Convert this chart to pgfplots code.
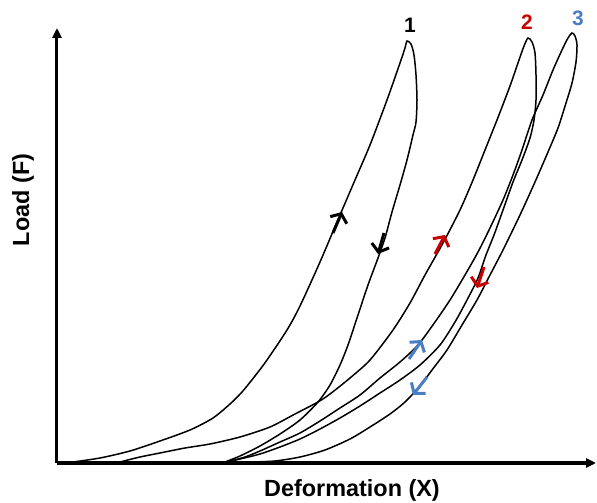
\documentclass[border=0pt]{standalone}
\usepackage{pgfplots}
\pgfplotsset{compat=1.18}
\usetikzlibrary{arrows.meta}
\usepackage{fontspec}
\setmainfont{Liberation Sans}
\definecolor{cred}{RGB}{200,0,0}
\definecolor{cblue}{RGB}{74,126,196}
\tikzset{dirarrow/.style={line width=3bp, -{Straight Barb[length=7bp,width=18bp,line width=3bp]}}}
\begin{document}
\begin{tikzpicture}
\begin{axis}[
  scale only axis,
  width=539bp, height=435bp,
  xmin=57, xmax=596, ymin=0, ymax=435,
  axis lines=left,
  axis line style={line width=3bp, -{Triangle[length=10bp,width=9bp]}},
  xtick=\empty, ytick=\empty,
  clip=false,
  xlabel={\fontsize{23.5}{26}\selectfont\bfseries Deformation (X)},
  ylabel={\fontsize{23.5}{26}\selectfont\bfseries Load (F)},
  every axis x label/.style={at={(axis cs:352,-27)},anchor=center},
  every axis y label/.style={at={(axis cs:23,263)},anchor=center,rotate=90},
]
% loop 1
\addplot[black, line width=1.5bp, smooth, tension=0.45] coordinates {
(73,1)(100,5)(130,12)(160,22)(190,33)(213,45)(230,59)(242,71)(255,87)(267,103)(287,133)(300,157)(320,201)(337,241)(355,283)(370,318)(387,363)(400,400)(405,415)(407,422)(411,419)(414,408)(416,388)(417,363)(416,341)(413,328)(407,303)(400,278)(392,251)(385,225)(378,205)(368,178)(357,145)(348,118)(340,98)(330,78)(318,61)(300,43)(280,29)(260,17)(240,7)(225,1)};
% loop 2
\addplot[black, line width=1.5bp, smooth, tension=0.45] coordinates {
(120,1)(140,6)(160,10)(185,15)(210,19)(240,26)(270,36)(295,49)(318,61)(330,69)(350,85)(370,103)(393,133)(410,160)(425,188)(443,220)(460,253)(473,283)(485,313)(497,343)(510,377)(519,403)(524,417)(528,425)(532,421)(535,410)(536,388)(536,363)(534,343)(530,325)(522,303)(513,281)(503,253)(494,228)(486,208)(478,185)(467,163)(455,141)(440,118)(420,98)(400,83)(380,70)(360,57)(340,45)(320,34)(300,24)(280,16)(260,9)(240,4)(227,1)};
% loop 3
\addplot[black, line width=1.5bp, smooth, tension=0.45] coordinates {
(227,1)(245,6)(260,12)(280,21)(300,30)(320,42)(340,55)(360,68)(380,85)(400,101)(418,118)(435,141)(450,163)(465,188)(478,211)(490,235)(503,263)(513,288)(522,313)(532,343)(543,368)(553,393)(562,413)(568,425)(572,430)(575,427)(577,418)(576,401)(572,380)(566,360)(558,335)(548,311)(535,281)(520,248)(503,213)(490,188)(477,163)(462,138)(447,113)(432,93)(420,77)(405,61)(390,49)(370,36)(350,24)(325,13)(300,6)(275,2)(250,1)};
% direction arrows
\addplot[black, dirarrow] coordinates {(333,230)(342,251)};
\addplot[black, dirarrow] coordinates {(384,230)(378,209)};
\addplot[cred, dirarrow] coordinates {(435,209)(445,228)};
\addplot[cred, dirarrow] coordinates {(484,196)(477,175)};
\addplot[cblue, dirarrow] coordinates {(409,104)(422,123)};
\addplot[cblue, dirarrow] coordinates {(427,86)(413,68)};
% loop labels
\node[font=\fontsize{21}{24}\selectfont\bfseries, text=black] at (axis cs:410,438) {1};
\node[font=\fontsize{21}{24}\selectfont\bfseries, text=cred] at (axis cs:527,441) {2};
\node[font=\fontsize{21}{24}\selectfont\bfseries, text=cblue] at (axis cs:578,445) {3};
\coordinate (BL) at (axis cs:0,-40);
\coordinate (TR) at (axis cs:597,463);
\end{axis}
\pgfresetboundingbox
\path[use as bounding box] (BL) rectangle (TR);
\end{tikzpicture}
\end{document}
